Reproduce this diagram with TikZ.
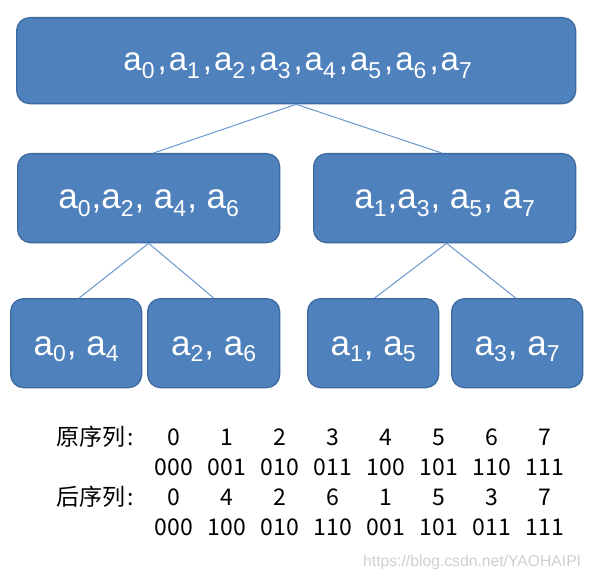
\documentclass[tikz,border=0pt]{standalone}
\usepackage{fontspec}
\setmainfont{Liberation Sans}
\newfontfamily\cjkfont{Noto Sans CJK SC}
\definecolor{boxfill}{HTML}{4F81BD}
\definecolor{boxline}{HTML}{3C6A9E}
\definecolor{connline}{HTML}{6A96CE}
\definecolor{wmgray}{HTML}{CFCFCF}
\newcommand\subsz{24}
\newcommand\sublow{9pt}
\newcommand\subkern{7pt}
\newcommand\cmkern{1.5pt}
\newcommand\Aa[1]{a\raisebox{-\sublow}{\fontsize{\subsz}{\subsz}\selectfont #1}}
\newcommand\Cm{\kern\subkern,\kern\cmkern}
\newcommand\topfont{\fontsize{33}{33}\selectfont\renewcommand\subsz{23}\renewcommand\sublow{8pt}\renewcommand\subkern{3pt}\renewcommand\cmkern{2pt}}
\newcommand\midfont{\fontsize{35}{35}\selectfont\renewcommand\subsz{23}\renewcommand\sublow{8pt}\renewcommand\subkern{1pt}\renewcommand\cmkern{0pt}}
\newcommand\botfont{\fontsize{35}{35}\selectfont\renewcommand\subsz{23}\renewcommand\sublow{6pt}\renewcommand\subkern{1pt}\renewcommand\cmkern{0pt}}
\begin{document}
\begin{tikzpicture}[x=1pt,y=-1pt,
  box/.style={draw=boxline, fill=boxfill, line width=1.3pt, rounded corners=13pt, inner sep=0pt, anchor=north west},
  lbl/.style={text=white, anchor=base, inner sep=0pt},
  conn/.style={draw=connline, line width=1pt},
  cell/.style={font=\cjkfont\fontsize{23}{23}\selectfont, anchor=base, inner sep=0pt}]
\useasboundingbox (0,0) rectangle (591,577);
% boxes
\node[box, minimum width=559pt, minimum height=86pt] (top) at (16,17) {};
\node[box, minimum width=262pt, minimum height=89pt] (midL) at (17,153) {};
\node[box, minimum width=262pt, minimum height=89pt] (midR) at (313,153) {};
\node[box, minimum width=131pt, minimum height=89pt] (b1) at (10,298) {};
\node[box, minimum width=132pt, minimum height=89pt] (b2) at (147,298) {};
\node[box, minimum width=131pt, minimum height=89pt] (b3) at (307,298) {};
\node[box, minimum width=131pt, minimum height=89pt] (b4) at (451,298) {};
% texts
\node[lbl, font=\topfont] (ttop) at ([xshift=1.5pt,yshift=-10pt]top.center) {\Aa0\Cm\Aa1\Cm\Aa2\Cm\Aa3\Cm\Aa4\Cm\Aa5\Cm\Aa6\Cm\Aa7};
\node[lbl, font=\midfont] (tmidL) at ([yshift=-10.5pt]midL.center) {\Aa0\Cm\Aa2\Cm{} \Aa4\Cm{} \Aa6};
\node[lbl, font=\midfont] (tmidR) at ([yshift=-10.5pt]midR.center) {\Aa1\Cm\Aa3\Cm{} \Aa5\Cm{} \Aa7};
\node[lbl, font=\botfont] (tb1) at ([yshift=-12.5pt]b1.center) {\Aa0\Cm{} \Aa4};
\node[lbl, font=\botfont] (tb2) at ([yshift=-12.5pt]b2.center) {\Aa2\Cm{} \Aa6};
\node[lbl, font=\botfont] (tb3) at ([yshift=-12.5pt]b3.center) {\Aa1\Cm{} \Aa5};
\node[lbl, font=\botfont] (tb4) at ([yshift=-12.5pt]b4.center) {\Aa3\Cm{} \Aa7};
% connectors
\draw[conn] (top.south) -- ([xshift=5pt]midL.north);
\draw[conn] (top.south) -- ([xshift=-3pt]midR.north);
\draw[conn] (midL.south) -- ([xshift=3pt]b1.north);
\draw[conn] (midL.south) -- (b2.north);
\draw[conn] ([xshift=2pt]midR.south) -- ([xshift=1.5pt]b3.north);
\draw[conn] ([xshift=2pt]midR.south) -- ([xshift=-1.5pt]b4.north);
% table
\node[cell, anchor=base west] (lab1) at (56,445) {原序列\kern2pt:};
\node[cell, anchor=base west] (lab2) at (56,505) {后序列\kern2pt:};
\foreach \v [count=\i] in {0,1,2,3,4,5,6,7}
  \node[cell] (o\i) at ({174+53*(\i-1)},445) {\v};
\foreach \v [count=\i] in {000,001,010,011,100,101,110,111}
  \node[cell] (ob\i) at ({174+53*(\i-1)},475) {\v};
\foreach \v [count=\i] in {0,4,2,6,1,5,3,7}
  \node[cell] (p\i) at ({174+53*(\i-1)},505) {\v};
\foreach \v [count=\i] in {000,100,010,110,001,101,011,111}
  \node[cell] (pb\i) at ({174+53*(\i-1)},535) {\v};
% watermark
\node[anchor=base west, inner sep=0pt, text=wmgray, font=\fontsize{15.7}{16}\selectfont] (wm) at (363,566) {https://blog.csdn.net/YAOHAIPI};
\end{tikzpicture}
\end{document}
